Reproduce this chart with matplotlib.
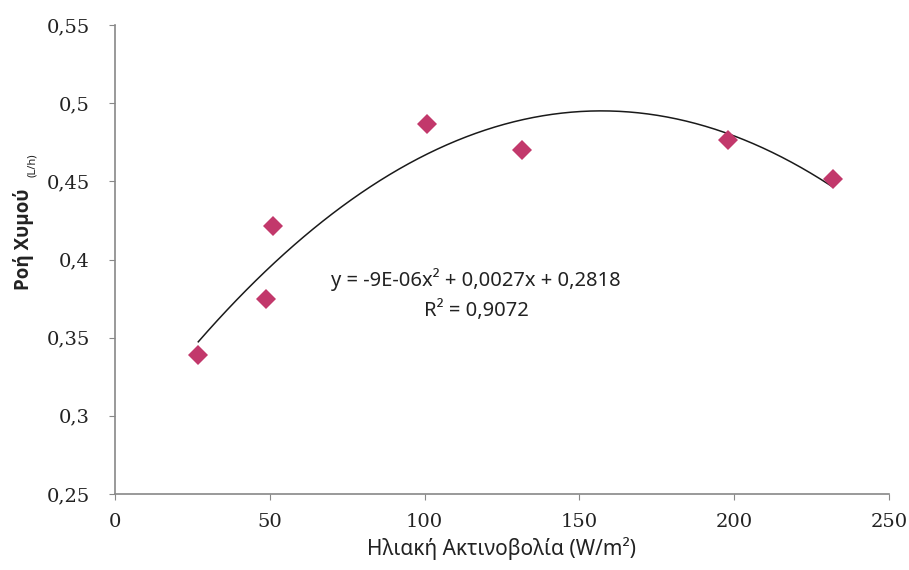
import numpy as np
import matplotlib.pyplot as plt

radiation = [26.9, 48.8, 50.9, 100.7, 131.3, 198.0, 231.9]
sap_flow = [0.339, 0.375, 0.4216, 0.487, 0.470, 0.4764, 0.4515]

x_ticks = [0, 50, 100, 150, 200, 250]
y_ticks = [0.25, 0.30, 0.35, 0.40, 0.45, 0.50, 0.55]
x_tick_labels = ['0', '50', '100', '150', '200', '250']
y_tick_labels = ['0,25', '0,3', '0,35', '0,4', '0,45', '0,5', '0,55']

eq_text = 'y = -9E-06x² + 0,0027x + 0,2818'
r2_text = 'R² = 0,9072'

sans = ['Noto Sans', 'DejaVu Sans']
sans_bold = ['Open Sans', 'DejaVu Sans']
serif = ['DejaVu Serif']

fig = plt.figure(figsize=(9.09, 5.70), dpi=100)
ax = fig.add_axes([0.1265, 0.1333, 0.8515, 0.8228])

# polynomial trendline (order 2), like the Excel one
coef = np.polyfit(radiation, sap_flow, 2)
xs = np.linspace(min(radiation), max(radiation), 200)
ax.plot(xs, np.polyval(coef, xs), color='#1a1a1a', lw=1.1, zorder=2)

ax.plot(radiation, sap_flow, 'D', color='#C2386B', markersize=10,
        markeredgewidth=0, zorder=3)

ax.set_xlim(0, 250)
ax.set_ylim(0.25, 0.55)
ax.set_xticks(x_ticks)
ax.set_xticklabels(x_tick_labels, family=serif, fontsize=14)
ax.set_yticks(y_ticks)
ax.set_yticklabels(y_tick_labels, family=serif, fontsize=14)
ax.tick_params(axis='both', direction='out', length=4, color='#888888',
               labelcolor='#222222')
ax.tick_params(axis='x', pad=10)
ax.tick_params(axis='y', pad=14)

for s in ['top', 'right']:
    ax.spines[s].set_visible(False)
for s in ['left', 'bottom']:
    ax.spines[s].set_color('#888888')
    ax.spines[s].set_linewidth(1.2)

ax.set_xlabel('Ηλιακή Ακτινοβολία (W/m²)', family=sans, fontsize=15,
              color='#222222', labelpad=4)
fig.text(0.026, 0.58, 'Ροή Χυμού', rotation=90, family=sans_bold, fontsize=13.5,
         fontweight='bold', color='#222222', ha='center', va='center')
fig.text(0.036, 0.71, '(L/h)', rotation=90, family=sans, fontsize=8,
         color='#222222', ha='center', va='center')

ax.text(116.6, 0.387, eq_text, family=sans, fontsize=14.5, ha='center',
        va='center', color='#222222')
ax.text(116.6, 0.3675, r2_text, family=sans, fontsize=14.5, ha='center',
        va='center', color='#222222')

fig.savefig('out.png', dpi=100, facecolor='white')
